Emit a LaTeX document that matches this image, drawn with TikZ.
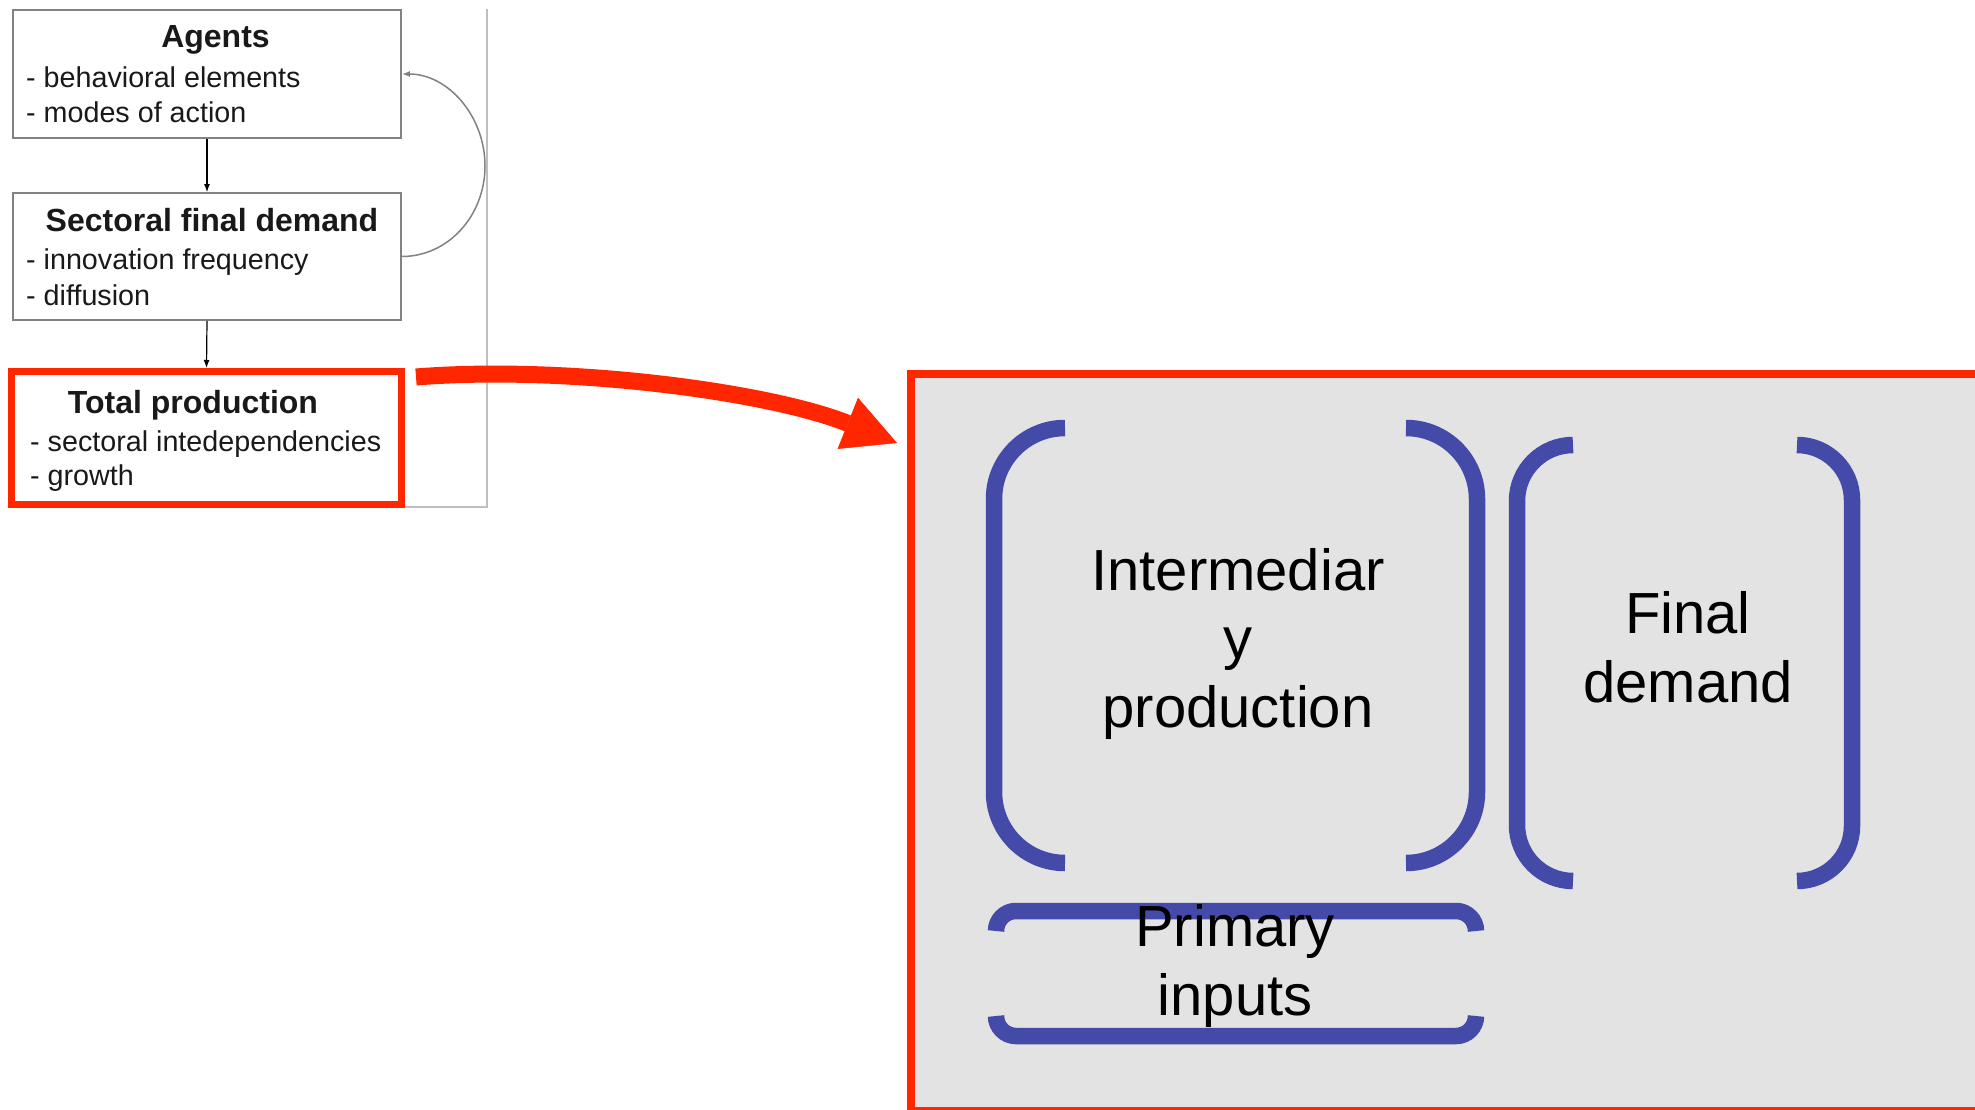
\documentclass[tikz,border=0pt]{standalone}
\usepackage{fontspec}
\setmainfont{Liberation Sans}
\usetikzlibrary{arrows.meta}
\definecolor{redc}{RGB}{255,38,0}
\definecolor{bluec}{RGB}{67,74,168}
\definecolor{boxgray}{RGB}{227,227,227}
\definecolor{edgegray}{RGB}{130,130,130}
\definecolor{framegray}{RGB}{190,190,190}
\definecolor{txt}{RGB}{25,25,25}
\begin{document}
\begin{tikzpicture}[x=1pt,y=-1pt,
  lbox/.style={draw=edgegray,line width=1.8pt,minimum width=388pt,inner sep=0},
  tpbox/.style={draw=redc,line width=7pt,minimum width=390pt,minimum height=133pt,inner sep=0},
  ttl/.style={font=\fontsize{32}{38}\selectfont\bfseries,text=txt,inner sep=0},
  itm/.style={font=\fontsize{28.7}{34}\selectfont,text=txt,inner sep=0,anchor=base west},
  thinarrow/.style={draw=black,line width=1.2pt,-{Latex[length=8pt,width=6pt]}},
  fbline/.style={draw=edgegray,line width=1.5pt,-{Latex[length=8pt,width=6pt]}},
  redarrow/.style={draw=redc,line width=17pt,-{Triangle[length=53pt,width=55pt,line width=0.5pt]}},
  iobox/.style={draw=redc,line width=8pt,fill=boxgray,minimum width=1200pt,minimum height=737pt,anchor=north west,inner sep=0,outer sep=0},
  brk/.style={draw=bluec,line width=16.5pt,line cap=butt},
  big/.style={font=\fontsize{58}{68.5}\selectfont,align=center,inner sep=0,text=black}
]
\clip (0,0) rectangle (1975,1110);
\fill[white] (0,0) rectangle (1975,1110);

% outer frame of the left panel
\draw[framegray,line width=1.5pt] (8,507) -- (487,507) -- (487,9);

% left boxes
\node[lbox,minimum height=128pt] (ag) at (207,74) {};
\node[lbox,minimum height=127pt] (sfd) at (207,256.5) {};
\node[tpbox] (tp) at (206.5,438) {};

\node[ttl,anchor=base] (agt) at (215.5,48) {Agents};
\node[itm] (ag1) at (26,88) {- behavioral elements};
\node[itm] (ag2) at (26,123) {- modes of action};
\node[ttl,anchor=base] (sfdt) at (212,232) {Sectoral final demand};
\node[itm] (sfd1) at (26,269) {- innovation frequency};
\node[itm] (sfd2) at (26,305) {- diffusion};
\node[ttl,anchor=base] (tpt) at (193,413) {Total production};
\node[itm] (tp1) at (30,451) {- sectoral intedependencies};
\node[itm] (tp2) at (30,485) {- growth};

\draw[thinarrow] (ag.south) -- (sfd.north);
\draw[thinarrow] (sfd.south) -- (tp.north);
\coordinate (fbr) at (485,166);
\draw[fbline] (sfd.east) .. controls +(46,0) and +(0,50) .. (fbr)
  .. controls +(0,-50) and +(46,0) .. (ag.east);

% big right panel
\node[iobox] (io) at (911,374) {};

% red arrow
\coordinate (ra0) at (416,377);
\coordinate (ra1) at (897,443);
\draw[redarrow] (ra0) .. controls (566,365) and (768,391.5) .. (ra1);

% brackets
\draw[brk,rounded corners=71pt] (1065,428) -- (994,428) -- (994,863) -- (1065,863);
\draw[brk,rounded corners=71pt] (1406,428) -- (1477,428) -- (1477,863) -- (1406,863);
\draw[brk,rounded corners=56pt] (1573,445) -- (1517,445) -- (1517,881) -- (1573,881);
\draw[brk,rounded corners=55pt] (1797,445) -- (1852,445) -- (1852,881) -- (1797,881);
\draw[brk,rounded corners=20pt] (996,931) -- (996,911) -- (1476,911) -- (1476,931);
\draw[brk,rounded corners=20pt] (996,1016) -- (996,1036) -- (1476,1036) -- (1476,1016);

\node[big,anchor=base] (imt) at (1238,727) {Intermediar\\y\\production};
\node[big,anchor=base] (fdt) at (1688,702) {Final\\demand};
\node[big,anchor=base] (pit) at (1235,1015) {Primary\\inputs};
\end{tikzpicture}
\end{document}
